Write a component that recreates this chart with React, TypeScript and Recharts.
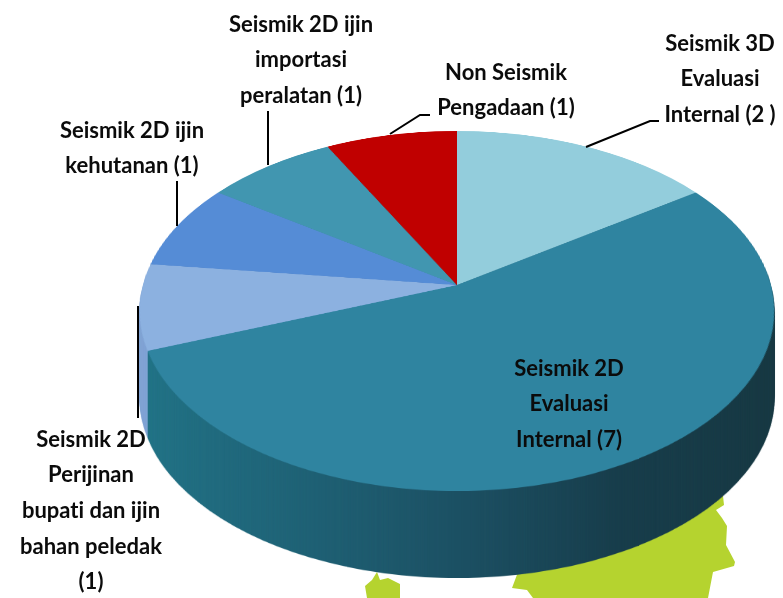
import React from "react";
import { PieChart, Pie, Cell } from "recharts";

const categories = [
  "Seismik 3D Evaluasi Internal",
  "Seismik 2D Evaluasi Internal",
  "Seismik 2D Perijinan bupati dan ijin bahan peledak",
  "Seismik 2D ijin kehutanan",
  "Seismik 2D ijin importasi peralatan",
  "Non Seismik Pengadaan",
];
const values = [2, 7, 1, 1, 1, 1];
const topColors = ["#93CDDC", "#2F84A0", "#8CB1E0", "#558CD6", "#4196B0", "#C00000"];
const wallColors = ["#5F8FA0", "url(#wallGrad)", "#7FA2D4", "#4A7BBE", "#35809A", "#8F0000"];
const pieData = categories.map((name, i) => ({ name, value: values[i] }));

const labelLines = [
  ["Seismik 3D", "Evaluasi", "Internal (2 )"],
  ["Seismik 2D", "Evaluasi", "Internal (7)"],
  ["Seismik 2D", "Perijinan", "bupati dan ijin", "bahan peledak", "(1)"],
  ["Seismik 2D ijin", "kehutanan (1)"],
  ["Seismik 2D ijin", "importasi", "peralatan (1)"],
  ["Non Seismik", "Pengadaan (1)"],
];
const labelAnchors = [
  { x: 720, y: 42 },
  { x: 569, y: 367 },
  { x: 91, y: 438 },
  { x: 132, y: 129 },
  { x: 301, y: 23 },
  { x: 506, y: 71 },
];
const LINE_GAP = 35.7;
const leaders = [
  "586,147 650,121 659,121",
  "138,306 138,418",
  "177,226 177,181",
  "268,165 268,111",
  "390,134 420,115 430,115",
];

const SIZE = 700;
const R = 314;
const CX = 457;
const CY = 285;
const TILT = "perspective(1800px) rotateX(55.85deg)";
const DEPTH = 87;
const STEP = 1;
const wallOffsets: number[] = [];
for (let d = DEPTH; d > 0; d -= STEP) wallOffsets.push(d);

function Disc({ colors, offset }: { colors: string[]; offset: number }) {
  return (
    <div
      style={{
        position: "absolute",
        left: CX - SIZE / 2,
        top: CY - SIZE / 2,
        width: SIZE,
        height: SIZE,
        transformOrigin: "50% 50%",
        transform: `translateY(${offset}px) ${TILT}`,
      }}
    >
      <PieChart width={SIZE} height={SIZE} margin={{ top: 0, right: 0, bottom: 0, left: 0 }}>
        <defs>
          <linearGradient id="wallGrad" gradientUnits="userSpaceOnUse" x1="30" y1="0" x2="670" y2="0">
            <stop offset="0" stopColor="#207488" />
            <stop offset="0.25" stopColor="#1E6478" />
            <stop offset="0.5" stopColor="#1B5063" />
            <stop offset="0.72" stopColor="#163C4A" />
            <stop offset="1" stopColor="#153640" />
          </linearGradient>
        </defs>
        <Pie
          data={pieData}
          dataKey="value"
          nameKey="name"
          cx={SIZE / 2}
          cy={SIZE / 2}
          innerRadius={0}
          outerRadius={R}
          startAngle={90}
          endAngle={-270}
          stroke="none"
          isAnimationActive={false}
          label={false}
          labelLine={false}
        >
          {pieData.map((d, i) => (
            <Cell key={d.name} fill={colors[i]} />
          ))}
        </Pie>
      </PieChart>
    </div>
  );
}

export default function App() {
  return (
    <div
      style={{
        position: "absolute",
        left: 0,
        top: 0,
        width: 783,
        height: 598,
        overflow: "hidden",
        background: "#fff",
      }}
    >
      <svg width={783} height={598} style={{ position: "absolute", left: 0, top: 0 }}>
        <polygon
          points="712,493 723,496 724,505 716,510 722,518 727,526 726,545 735,562 734,566 713,572 708,598 533,598 527,590 512,588 518,572 640,540"
          fill="#B5D32F"
        />
        <polygon
          points="377,572 380,580 388,578 400,584 400,598 367,598 365,586 372,580"
          fill="#B5D32F"
        />
      </svg>
      {wallOffsets.map((d) => (
        <Disc key={d} colors={wallColors} offset={d} />
      ))}
      <Disc colors={topColors} offset={0} />
      <svg
        width={783}
        height={598}
        style={{ position: "absolute", left: 0, top: 0, fontVariantLigatures: "none" }}
        fontFamily="Lato, sans-serif"
        fontWeight={700}
        fontSize={22}
        fill="#0B0B0B"
      >
        {leaders.map((p) => (
          <polyline key={p} points={p} fill="none" stroke="#000" strokeWidth={2} />
        ))}
        {labelLines.map((lines, i) =>
          lines.map((t, j) => (
            <text
              key={`${i}-${j}`}
              x={labelAnchors[i].x}
              y={labelAnchors[i].y + j * LINE_GAP}
              textAnchor="middle"
              dominantBaseline="central"
            >
              {t}
            </text>
          ))
        )}
      </svg>
    </div>
  );
}
